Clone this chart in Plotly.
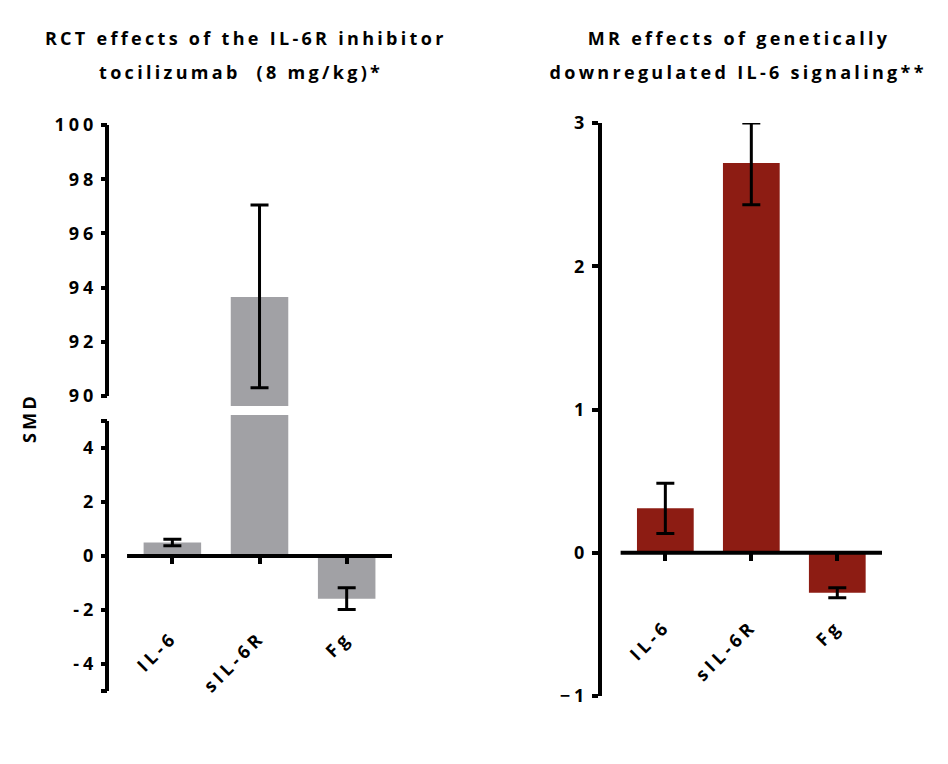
import plotly.graph_objects as go

# ---------------- data ----------------
categories = ["IL-6", "sIL-6R", "Fg"]

rct_smd = [0.5, 93.65, -1.58]
rct_err_plus = [0.12, 3.4, 0.4]
rct_err_minus = [0.12, 3.35, 0.4]

mr_smd = [0.31, 2.72, -0.28]
mr_err_plus = [0.175, 0.28, 0.035]
mr_err_minus = [0.175, 0.29, 0.035]

lower_ticks = [-5, -4, -2, 0, 2, 4, 5]
lower_ticktext = ["", "-4", "-2", "0", "2", "4", ""]
upper_ticks = [90, 92, 94, 96, 98, 100]
mr_ticks = [-1, 0, 1, 2, 3]

# ---------------- styling helpers ----------------
W, H = 948, 764
def px(x):
    return x / W
def py(y):
    return 1 - y / H

GREY = "#A1A1A5"
RED = "#8D1C13"
FONT = "Open Sans"

lower_mask = [1, 0, 1]
upper_mask = [0, 1, 0]

fig = go.Figure()

fig.add_trace(go.Bar(
    x=categories, y=rct_smd, xaxis="x", yaxis="y",
    marker=dict(color=GREY, line=dict(width=0)), width=0.66,
    error_y=dict(type="data", symmetric=False,
                 array=[a * m for a, m in zip(rct_err_plus, lower_mask)],
                 arrayminus=[a * m for a, m in zip(rct_err_minus, lower_mask)],
                 color="black", thickness=3, width=9),
    showlegend=False, hoverinfo="x+y",
))
fig.add_trace(go.Bar(
    x=categories, y=rct_smd, xaxis="x", yaxis="y2",
    marker=dict(color=GREY, line=dict(width=0)), width=0.66,
    error_y=dict(type="data", symmetric=False,
                 array=[a * m for a, m in zip(rct_err_plus, upper_mask)],
                 arrayminus=[a * m for a, m in zip(rct_err_minus, upper_mask)],
                 color="black", thickness=3, width=9),
    showlegend=False, hoverinfo="x+y",
))
fig.add_trace(go.Bar(
    x=categories, y=mr_smd, xaxis="x2", yaxis="y3",
    marker=dict(color=RED, line=dict(width=0)), width=0.66,
    error_y=dict(type="data", symmetric=False,
                 array=mr_err_plus, arrayminus=mr_err_minus,
                 color="black", thickness=3, width=9),
    showlegend=False, hoverinfo="x+y",
))

tickfont = dict(family=FONT, size=18, color="black", weight="bold")

lower_y_top, lower_y_bot = 415, 691
lower_range = [-5, 5.22]
zero_left_px = lower_y_bot - (0 - lower_range[0]) / (lower_range[1] - lower_range[0]) * (lower_y_bot - lower_y_top)
mr_y_top, mr_y_bot = 123, 696
mr_range = [-1, 3]
zero_right_px = mr_y_bot - (0 - mr_range[0]) / (mr_range[1] - mr_range[0]) * (mr_y_bot - mr_y_top)

fig.update_layout(
    width=W, height=H,
    margin=dict(l=0, r=0, t=0, b=0, pad=0, autoexpand=False),
    paper_bgcolor="white", plot_bgcolor="white",
    xaxis=dict(
        domain=[px(107), px(392)], range=[-0.75, 2.52],
        anchor="free", position=py(zero_left_px), automargin=False,
        showline=False, showgrid=False, zeroline=False,
        ticks="outside", ticklen=7, tickwidth=4, tickcolor="black",
        tickangle=-45, tickfont=tickfont, ticklabelstandoff=56,
        type="category",
    ),
    yaxis=dict(
        domain=[py(lower_y_bot), py(lower_y_top)], range=lower_range,
        anchor="free", position=px(107), automargin=False,
        showline=False, showgrid=False, zeroline=False,
        ticks="outside", ticklen=6, tickwidth=4, tickcolor="black",
        tickvals=lower_ticks, ticktext=lower_ticktext, tickfont=tickfont,
    ),
    yaxis2=dict(
        domain=[py(406), py(125)], range=[89.63, 100],
        anchor="free", position=px(107), automargin=False,
        showline=False, showgrid=False, zeroline=False,
        ticks="outside", ticklen=6, tickwidth=4, tickcolor="black",
        tickvals=upper_ticks, tickfont=tickfont,
    ),
    xaxis2=dict(
        domain=[px(600), px(882)], range=[-0.76, 2.52],
        anchor="free", position=py(zero_right_px), automargin=False,
        showline=False, showgrid=False, zeroline=False,
        ticks="outside", ticklen=7, tickwidth=4, tickcolor="black",
        tickangle=-45, tickfont=tickfont, ticklabelstandoff=48,
        type="category",
    ),
    yaxis3=dict(
        domain=[py(mr_y_bot), py(mr_y_top)], range=mr_range,
        anchor="free", position=px(600), automargin=False,
        showline=True, linewidth=4, linecolor="black",
        showgrid=False, zeroline=False,
        ticks="outside", ticklen=6, tickwidth=4, tickcolor="black",
        tickvals=mr_ticks, tickfont=tickfont,
    ),
)

shapes = [
    dict(type="line", xref="paper", yref="y", x0=px(107), x1=px(107), y0=-5, y1=5,
         line=dict(color="black", width=4)),
    dict(type="line", xref="paper", yref="y2", x0=px(107), x1=px(107), y0=90, y1=100,
         line=dict(color="black", width=4)),
    dict(type="line", xref="x", yref="y", x0=-0.52, x1=2.52, y0=0, y1=0,
         line=dict(color="black", width=4)),
    dict(type="line", xref="x2", yref="y3", x0=-0.52, x1=2.52, y0=0, y1=0,
         line=dict(color="black", width=4)),
]
fig.update_layout(shapes=shapes)

titlefont = dict(family=FONT, size=18, color="black", weight="bold")
annotations = [
    dict(text="RCT effects of the IL-6R inhibitor", x=px(246), y=py(38)),
    dict(text="tocilizumab  (8 mg/kg)*", x=px(241), y=py(72)),
    dict(text="MR effects of genetically", x=px(739), y=py(38)),
    dict(text="downregulated IL-6 signaling**", x=px(738), y=py(72)),
]
for a in annotations:
    a.update(xref="paper", yref="paper", showarrow=False, font=titlefont,
             xanchor="center", yanchor="middle")
annotations.append(dict(text="SMD", x=px(29), y=py(418), xref="paper", yref="paper",
                        showarrow=False, textangle=-90, font=titlefont,
                        xanchor="center", yanchor="middle"))
fig.update_layout(annotations=annotations)

post = """
document.documentElement.style.margin = '0';
document.documentElement.style.overflow = 'hidden';
document.body.style.margin = '0';
document.body.style.overflow = 'hidden';
var gd = document.getElementById('{plot_id}');
gd.style.position = 'fixed';
gd.style.top = '0px';
gd.style.left = '0px';
function spaceText() {
  gd.querySelectorAll('.annotation-text').forEach(function(t){ t.style.letterSpacing = '3.3px'; });
  gd.querySelectorAll('.xtick text, .ytick text, .x2tick text, .y2tick text, .y3tick text').forEach(function(t){ t.style.letterSpacing = '4px'; });
}
spaceText();
gd.on('plotly_afterplot', spaceText);
"""

fig.write_html("out.html", post_script=post, config={"displayModeBar": False})
